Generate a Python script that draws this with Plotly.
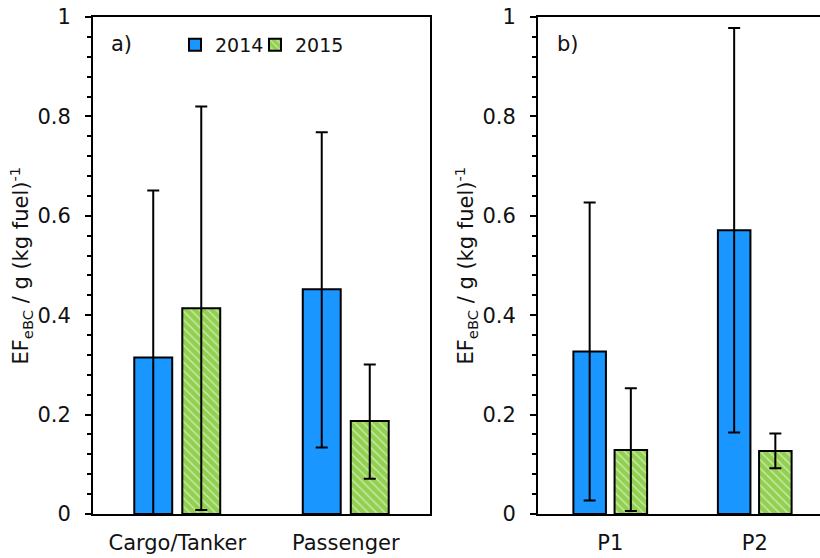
import plotly.graph_objects as go

# Ship categories (panel a) and individual passenger ships (panel b)
groups_a = ["Cargo/Tanker", "Passenger"]
groups_b = ["P1", "P2"]
years = ["2014", "2015"]

# Mean emission factors, g (kg fuel)^-1
ef_a_2014 = [0.315, 0.452]
ef_a_2015 = [0.414, 0.187]
ef_b_2014 = [0.327, 0.571]
ef_b_2015 = [0.129, 0.127]

# Upper / lower ends of the error bars
hi_a_2014 = [0.651, 0.768]
lo_a_2014 = [0.0, 0.134]
hi_a_2015 = [0.820, 0.301]
lo_a_2015 = [0.008, 0.071]
hi_b_2014 = [0.627, 0.978]
lo_b_2014 = [0.027, 0.164]
hi_b_2015 = [0.253, 0.162]
lo_b_2015 = [0.006, 0.092]

FONT = "DejaVu Sans, Verdana, sans-serif"
BLUE = "#1996ff"
GREEN = "#92d050"
W, H = 820, 558


def err(vals, hi, lo):
    return dict(
        type="data", symmetric=False,
        array=[h - v for v, h in zip(vals, hi)],
        arrayminus=[v - l for v, l in zip(vals, lo)],
        color="black", thickness=2, width=6,
    )


def bar(x, y, hi, lo, year, xa, ya, show, legend):
    green = year == "2015"
    marker = dict(color=GREEN if green else BLUE, line=dict(color="black", width=2))
    if green:
        marker["pattern"] = dict(shape="\\", fgcolor="white", bgcolor=GREEN,
                                 size=6, solidity=0.25, fillmode="overlay")
    return go.Bar(x=x, y=y, name=year, marker=marker, error_y=err(y, hi, lo),
                  xaxis=xa, yaxis=ya, showlegend=show, legend=legend,
                  legendgroup=year)


fig = go.Figure()
fig.add_trace(bar(groups_a, ef_a_2014, hi_a_2014, lo_a_2014, years[0], "x", "y", True, "legend"))
fig.add_trace(bar(groups_a, ef_a_2015, hi_a_2015, lo_a_2015, years[1], "x", "y", True, "legend2"))
fig.add_trace(bar(groups_b, ef_b_2014, hi_b_2014, lo_b_2014, years[0], "x2", "y2", False, "legend"))
fig.add_trace(bar(groups_b, ef_b_2015, hi_b_2015, lo_b_2015, years[1], "x2", "y2", False, "legend2"))

ydom = [1 - 514 / H, 1 - 17 / H]
yax = dict(
    range=[0, 1], dtick=0.2, showgrid=False, zeroline=False,
    showline=True, linecolor="black", linewidth=2,
    ticks="outside", ticklen=6, tickwidth=2, tickcolor="black",
    minor=dict(ticks="outside", ticklen=4, tickwidth=2, dtick=0.04, tickcolor="black"),
    tickfont=dict(family=FONT, size=21, color="#111111"),
    ticklabelstandoff=10, domain=ydom, fixedrange=True, automargin=False,
)
xax = dict(
    type="category", showgrid=False, zeroline=False,
    showline=True, linecolor="black", linewidth=2, mirror=True,
    ticks="", tickfont=dict(family=FONT, size=21, color="#111111"),
    ticklabelstandoff=9, fixedrange=True, automargin=False,
)

legend_style = dict(orientation="h", y=1 - 45 / H, xanchor="left", yanchor="middle",
                    bgcolor="rgba(0,0,0,0)", font=dict(family=FONT, size=19))

fig.update_layout(
    width=W, height=H, margin=dict(l=0, r=0, t=0, b=0, autoexpand=False),
    paper_bgcolor="white", plot_bgcolor="white",
    barmode="group", bargap=0.43, bargroupgap=0.21,
    font=dict(family=FONT, color="#111111"),
    xaxis=dict(xax, domain=[93 / W, 430 / W], range=[-0.5, 1.5], anchor="y"),
    yaxis=dict(yax, anchor="x", mirror=True),
    xaxis2=dict(xax, domain=[538 / W, 1.0], range=[-0.5, -0.5 + 282 / 144.5], anchor="y2"),
    yaxis2=dict(yax, anchor="x2"),
    legend=dict(legend_style, x=175 / W),
    legend2=dict(legend_style, x=255 / W),
)

ytitle = "EF<sub>eBC</sub> / g (kg fuel)<sup>-1</sup>"
yc = (ydom[0] + ydom[1]) / 2
for xpos in (20 / W, 465 / W):
    fig.add_annotation(text=ytitle, xref="paper", yref="paper", x=xpos, y=yc,
                       textangle=-90, showarrow=False, xanchor="center", yanchor="middle",
                       font=dict(family=FONT, size=21))
for label, xpos in (("a)", 109 / W), ("b)", 555 / W)):
    fig.add_annotation(text=label, xref="paper", yref="paper", x=xpos, y=1 - 44 / H,
                       showarrow=False, xanchor="left", yanchor="middle",
                       font=dict(family=FONT, size=21))

fig.write_html("out.html")
